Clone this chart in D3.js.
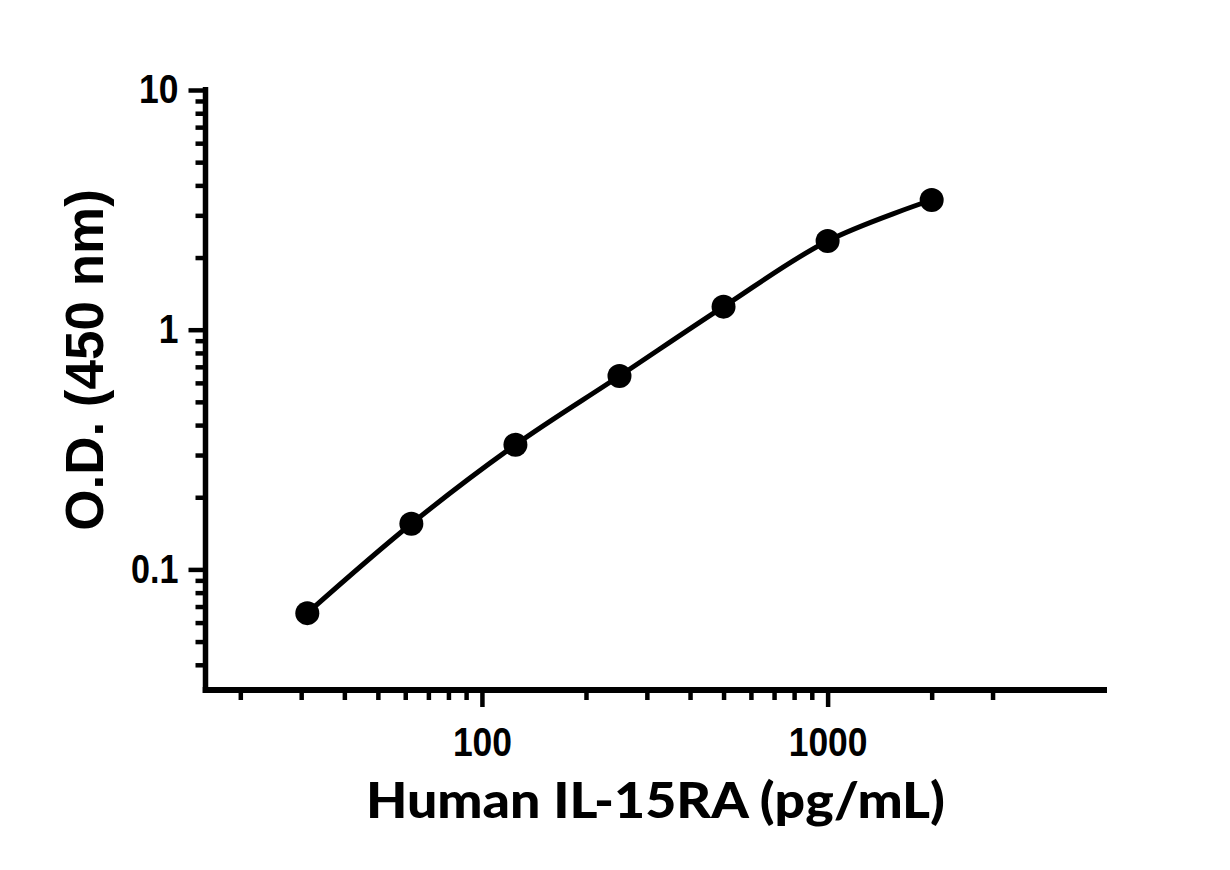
<!DOCTYPE html>
<html>
<head>
<meta charset="utf-8">
<script src="https://cdn.jsdelivr.net/npm/d3@7"></script>
<style>
  html, body { margin: 0; padding: 0; background: #fff; }
  svg { display: block; }
</style>
</head>
<body>
<svg id="chart"></svg>
<script>
// standard curve: concentration (pg/mL) vs O.D. at 450 nm
const concentrations = [31.25, 62.5, 125, 250, 500, 1000, 2000];
const odValues = [0.0657, 0.155, 0.331, 0.641, 1.248, 2.345, 3.476];

const xMajorTicks = [100, 1000];
const xMinorTicks = [20, 30, 40, 50, 60, 70, 80, 90, 200, 300, 400, 500, 600, 700, 800, 900, 2000, 3000];
const yMajorTicks = [0.1, 1, 10];
const yMinorTicks = [0.04, 0.05, 0.06, 0.07, 0.08, 0.09, 0.2, 0.3, 0.4, 0.5, 0.6, 0.7, 0.8, 0.9, 2, 3, 4, 5, 6, 7, 8, 9];

const xLabel = "Human IL-15RA (pg/mL)";
const yLabel = "O.D. (450 nm)";

const width = 1230, height = 870;
const plotLeft = 205.5, plotRight = 1107, plotTop = 90, plotBottom = 690;

const svg = d3.select("#chart")
    .attr("width", width)
    .attr("height", height);

const x = d3.scaleLog().domain([15.6, 6430]).range([203, plotRight]);
const y = d3.scaleLog().domain([0.0317, 10]).range([plotBottom - 1, plotTop]);

// narrow bold digits, squeezed to ~19.7px per digit
function styleAxis(g) {
    g.select(".domain").remove();
    g.selectAll(".tick line").attr("stroke", "#000").attr("stroke-width", 4.5);
    g.selectAll(".tick text")
        .attr("fill", "#000")
        .attr("font-family", "'Liberation Sans', Arial, sans-serif")
        .attr("font-weight", "bold")
        .attr("font-size", 40)
        .attr("lengthAdjust", "spacingAndGlyphs")
        .attr("textLength", function() {
            const t = this.textContent;
            if (!t) return null;
            return t.replace(".", "").length * 19.7 + (t.includes(".") ? 8 : 0);
        });
}

// x axis
svg.append("g")
    .attr("transform", `translate(0,${plotBottom})`)
    .call(d3.axisBottom(x).tickValues(xMinorTicks).tickSize(10).tickFormat(""))
    .call(styleAxis);

svg.append("g")
    .attr("transform", `translate(0,${plotBottom})`)
    .call(d3.axisBottom(x).tickValues(xMajorTicks).tickSize(17).tickPadding(21).tickFormat(d3.format("d")))
    .call(styleAxis);

// y axis
svg.append("g")
    .attr("transform", `translate(${plotLeft},0)`)
    .call(d3.axisLeft(y).tickValues(yMinorTicks).tickSize(10).tickFormat(""))
    .call(styleAxis);

svg.append("g")
    .attr("transform", `translate(${plotLeft},0)`)
    .call(d3.axisLeft(y).tickValues(yMajorTicks).tickSize(17).tickPadding(10)
        .tickFormat(d => d < 1 ? String(d) : d3.format("d")(d)))
    .call(styleAxis);

// axis lines
svg.append("line")
    .attr("x1", plotLeft).attr("x2", plotLeft)
    .attr("y1", plotTop - 3).attr("y2", plotBottom + 3)
    .attr("stroke", "#000").attr("stroke-width", 5.5);

svg.append("line")
    .attr("x1", 202.7).attr("x2", plotRight)
    .attr("y1", plotBottom).attr("y2", plotBottom)
    .attr("stroke", "#000").attr("stroke-width", 6);

// fitted curve
const points = concentrations.map((c, i) => [c, odValues[i]]);

svg.append("path")
    .datum(points)
    .attr("fill", "none")
    .attr("stroke", "#000")
    .attr("stroke-width", 5)
    .attr("d", d3.line()
        .x(d => x(d[0]))
        .y(d => y(d[1]))
        .curve(d3.curveCatmullRom.alpha(0.5)));

svg.append("g")
  .selectAll("circle")
  .data(points)
  .join("circle")
    .attr("cx", d => x(d[0]))
    .attr("cy", d => y(d[1]))
    .attr("r", 12)
    .attr("fill", "#000");

// axis titles
svg.append("text")
    .attr("x", 366)
    .attr("y", 818)
    .attr("textLength", 579)
    .attr("lengthAdjust", "spacingAndGlyphs")
    .attr("font-family", "Lato, 'Liberation Sans', sans-serif")
    .attr("font-weight", 900)
    .attr("font-size", 50)
    .attr("fill", "#000")
    .text(xLabel);

svg.append("text")
    .attr("transform", "translate(103,360) rotate(-90)")
    .attr("text-anchor", "middle")
    .attr("font-family", "'Liberation Sans', Arial, sans-serif")
    .attr("font-weight", "bold")
    .attr("font-size", 53)
    .attr("fill", "#000")
    .text(yLabel);
</script>
</body>
</html>
